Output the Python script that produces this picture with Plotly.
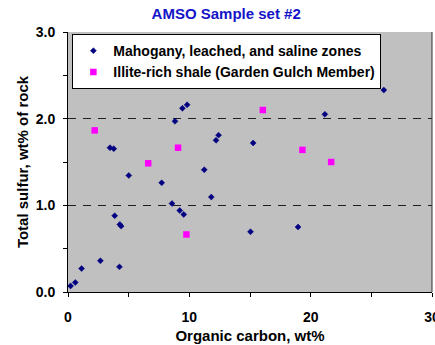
import plotly.graph_objects as go

mahogany_c = [0.21, 0.6, 1.12, 2.67, 4.24, 3.85, 4.27, 4.38, 5.01, 7.72, 8.57, 9.21, 9.54,
              11.23, 11.81, 15.04, 18.96, 3.46, 3.77, 8.82, 9.43, 9.82, 12.2, 12.41, 15.26,
              21.17, 26.03]
mahogany_s = [0.07, 0.11, 0.27, 0.36, 0.29, 0.88, 0.78, 0.76, 1.345, 1.26, 1.02, 0.94, 0.895,
              1.41, 1.095, 0.695, 0.75, 1.665, 1.654, 1.97, 2.12, 2.16, 1.75, 1.81, 1.72,
              2.05, 2.33]

illite_c = [2.2, 9.07, 6.61, 9.76, 16.06, 19.32, 21.69]
illite_s = [1.865, 1.665, 1.485, 0.664, 2.10, 1.64, 1.50]

x_ticks = [0, 10, 20, 30]
y_ticks = [0.0, 1.0, 2.0, 3.0]

FONT = "Liberation Sans, Arial, sans-serif"

fig = go.Figure()
fig.add_trace(go.Scatter(
    x=mahogany_c, y=mahogany_s, mode="markers",
    name="<b>Mahogany, leached, and saline zones</b>",
    marker=dict(symbol="diamond", size=4.6, color="#000080", line=dict(width=0.5, color="#000080")),
))
fig.add_trace(go.Scatter(
    x=illite_c, y=illite_s, mode="markers",
    name="<b>Illite-rich shale (Garden Gulch Member)</b>",
    marker=dict(symbol="square", size=6.5, color="#FF00FF", line=dict(width=0)),
))

fig.update_layout(
    width=435, height=345,
    margin=dict(l=68, r=3, t=32, b=53),
    paper_bgcolor="white",
    plot_bgcolor="#C0C0C0",
    font=dict(family=FONT, size=15, color="black"),
    title=dict(text="<b>AMSO Sample set #2</b>", x=0.52, xref="container", xanchor="center",
               y=0.96, yref="container", yanchor="middle",
               font=dict(family=FONT, size=15, color="#1414C8")),
    showlegend=True,
    legend=dict(x=0.012, y=0.992, xanchor="left", yanchor="top",
                bgcolor="white", bordercolor="black", borderwidth=1,
                font=dict(family=FONT, size=14, color="black"),
                tracegroupgap=0, itemwidth=30),
    xaxis=dict(
        range=[0, 30], tickvals=x_ticks, ticktext=[str(v) for v in x_ticks],
        showgrid=False, zeroline=False,
        showline=True, linecolor="black", linewidth=1,
        ticks="outside", ticklen=4, tickcolor="black",
        minor=dict(ticks="outside", dtick=5, ticklen=4, tickcolor="black", showgrid=False),
        tickfont=dict(family=FONT, size=14, color="black", weight="bold"),
        ticklabelstandoff=8, ticklabeloverflow="allow",
        title=dict(text="<b>Organic carbon, wt%</b>", standoff=6,
                   font=dict(family=FONT, size=15, color="black")),
        automargin=False,
    ),
    yaxis=dict(
        range=[0, 3], tickvals=y_ticks, ticktext=[f"{v:.1f}" for v in y_ticks],
        showgrid=True, gridcolor="#202020", gridwidth=1, griddash="8px,7px",
        zeroline=False,
        showline=True, linecolor="black", linewidth=1,
        ticks="outside", ticklen=4, tickcolor="black",
        minor=dict(ticks="outside", dtick=0.5, ticklen=4, tickcolor="black", showgrid=False),
        tickfont=dict(family=FONT, size=14, color="black", weight="bold"),
        ticklabelstandoff=5,
        title=dict(text="<b>Total sulfur, wt% of rock</b>", standoff=3,
                   font=dict(family=FONT, size=15, color="black")),
        automargin=False,
    ),
)

# right border of plot area
fig.add_shape(type="line", xref="paper", yref="paper", x0=1, x1=1, y0=0, y1=1,
              line=dict(color="#303030", width=1))

fig.write_html("out.html", config={"displayModeBar": False},
               post_script="document.body.style.margin='0';document.body.style.padding='0';")
